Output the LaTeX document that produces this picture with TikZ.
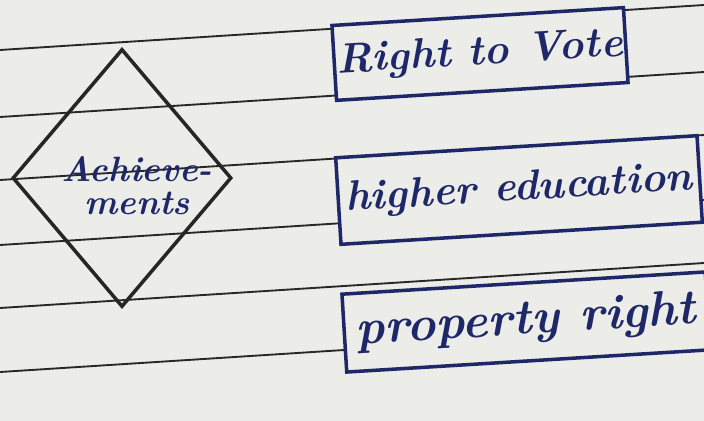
\documentclass[tikz,border=0pt]{standalone}
\usetikzlibrary{shapes.geometric}
\definecolor{ink}{RGB}{30,40,105}
\definecolor{paper}{RGB}{236,236,232}
\definecolor{rule}{RGB}{40,40,40}
\tikzset{hand/.style={text=ink,font=\bfseries\itshape\fontsize{#1}{#1}\selectfont},
  answer/.style={draw=ink,line width=3pt,rectangle,inner sep=0pt,fill=paper,rotate=3.5}}
\begin{document}
\begin{tikzpicture}[x=0.3mm,y=-0.3mm]
\fill[paper] (0,0) rectangle (704,421);
\useasboundingbox (0,0) rectangle (704,421);
\foreach \y in {50,117,180,245,308,372}
  \draw[rule,line width=1.6pt] (0,\y)--(704,\y-45);
\node[diamond,draw=black!85,line width=3pt,minimum width=65.7mm,minimum height=77.4mm,inner sep=0pt] (achv) at (122,178) {};
\node[align=center,inner sep=0pt,hand=30] (achvtext) at (137,186) {Achieve-\\[-2pt]ments};
\node[answer,minimum width=87.6mm,minimum height=22.5mm,hand=36] (vote) at (480,54) {Right to Vote};
\node[answer,minimum width=108.6mm,minimum height=26mm,hand=36] (edu) at (519,190) {higher education};
\node[answer,minimum width=109.2mm,minimum height=23.4mm,hand=42] (prop) at (526,322) {property right};
\end{tikzpicture}
\end{document}
